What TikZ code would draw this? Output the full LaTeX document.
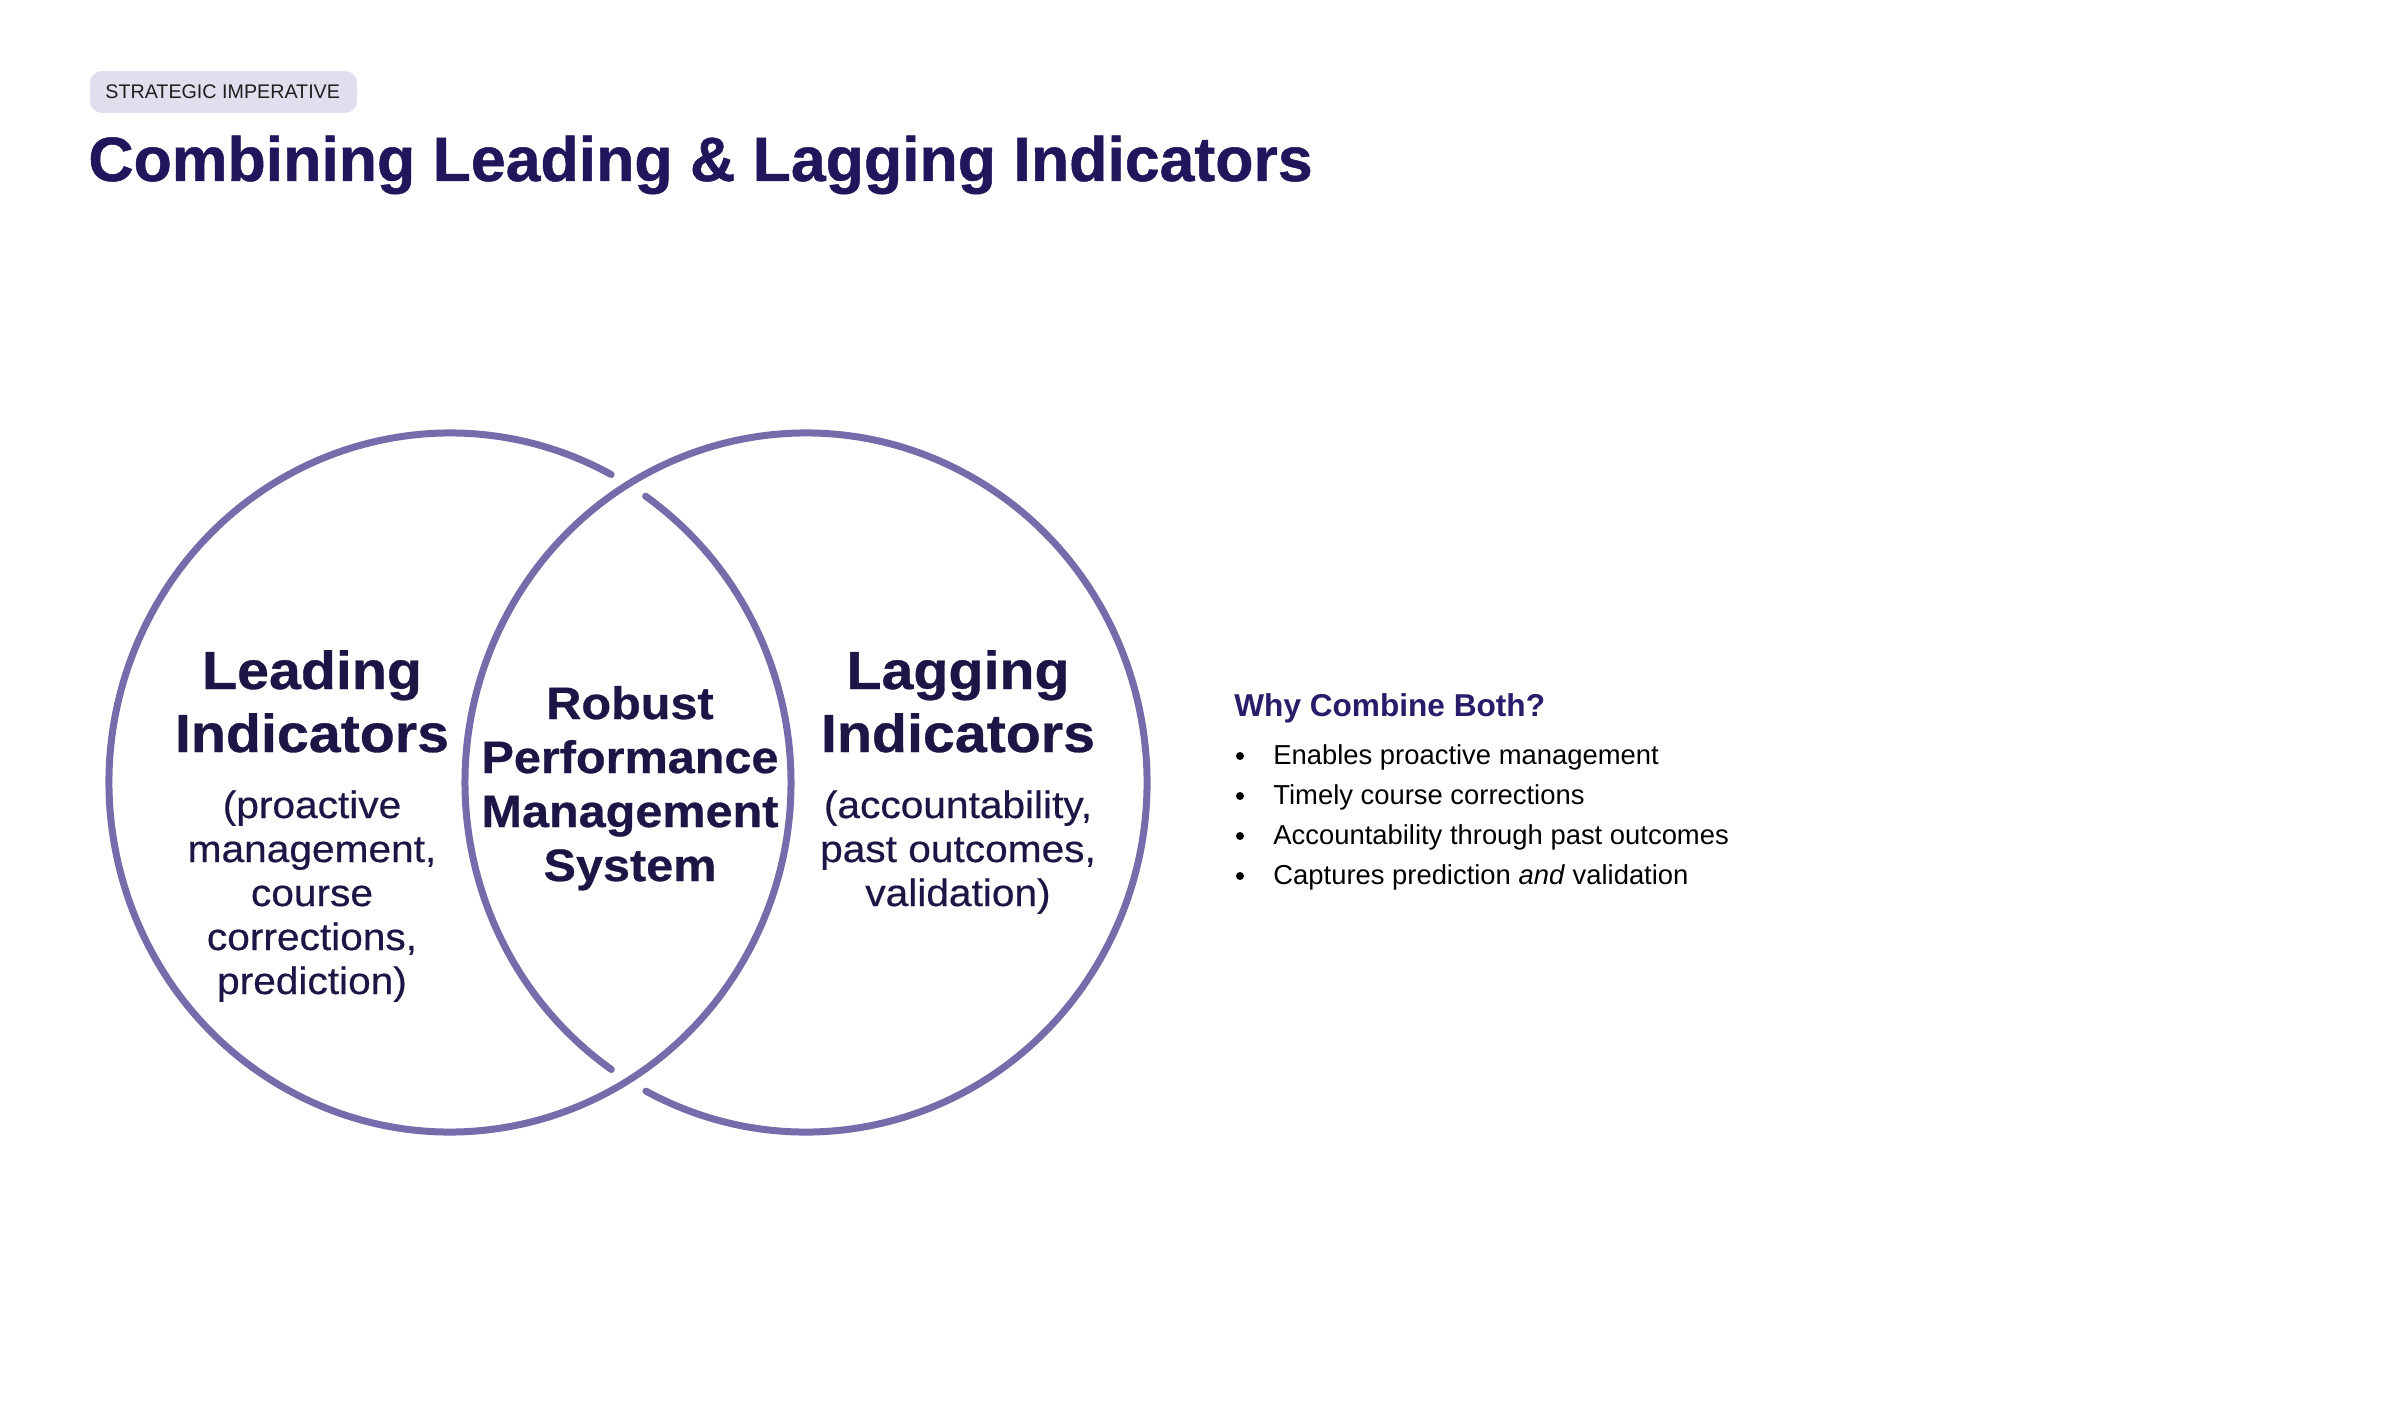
\documentclass[tikz,border=0pt]{standalone}
\usepackage{fontspec}
\usetikzlibrary{calc}
\setmainfont{Liberation Sans}
\newfontfamily\vennfont[FakeStretch=1.07,FakeBold=0.6]{Liberation Sans Bold}
\newfontfamily\vennmed[FakeStretch=1.07,FakeBold=0.5]{Liberation Sans}
\newfontfamily\titlefont[FakeBold=0.8]{Liberation Sans Bold}
\definecolor{ring}{HTML}{766CAC}
\definecolor{venntxt}{HTML}{1C1646}
\definecolor{titlec}{HTML}{22155C}
\definecolor{headc}{HTML}{2A1B6B}
\definecolor{pillfill}{HTML}{E1DFEE}
\definecolor{pilltxt}{HTML}{1E1E1E}
\tikzset{
  ringline/.style={draw=ring, line width=3.5pt, line cap=round},
  bigtxt/.style={anchor=base, inner sep=0pt, text=venntxt, font=\vennfont\fontsize{26.8pt}{30pt}\selectfont},
  midtxt/.style={anchor=base, inner sep=0pt, text=venntxt, font=\vennfont\fontsize{22.7pt}{26pt}\selectfont},
  smalltxt/.style={anchor=base, inner sep=0pt, text=venntxt, font=\vennmed\fontsize{19pt}{22pt}\selectfont},
  bullettxt/.style={anchor=base west, inner sep=0pt, text=black, font=\fontsize{13.7pt}{16pt}\selectfont},
  bulletdot/.style={circle, fill=black, inner sep=0pt, minimum size=4pt},
  pillbox/.style={fill=pillfill, rounded corners=6pt},
}
\begin{document}
\begin{tikzpicture}[x=0.5pt,y=0.5pt]
\useasboundingbox (0,0) rectangle (2400,-1412);
\fill[white] (0,0) rectangle (2400,-1412);

% header
\path[pillbox] (90,-71) rectangle (357,-113);
\node[anchor=base west, inner sep=0pt, text=pilltxt, font=\fontsize{9.85pt}{12pt}\selectfont] (tag) at (105,-99) {STRATEGIC IMPERATIVE};
\node[anchor=base west, inner sep=0pt, text=titlec, font=\titlefont\fontsize{31.3pt}{36pt}\selectfont] (title) at (88,-181) {Combining Leading \& Lagging Indicators};

% venn rings (interlocked)
\coordinate (cL) at (450,-782.5);
\coordinate (cR) at (806,-782.5);
\draw[ringline] ($(cL)+(61.8:341 and 349.5)$) arc[start angle=61.8, end angle=415.0, x radius=341, y radius=349.5];
\draw[ringline] ($(cR)+(242.0:341 and 349.5)$) arc[start angle=242.0, end angle=595.2, x radius=341, y radius=349.5];

% left text
\node[bigtxt] (l1) at (312,-689) {Leading};
\node[bigtxt] (l2) at (312,-752) {Indicators};
\node[smalltxt] (l3) at (312,-818) {(proactive};
\node[smalltxt] (l4) at (312,-862) {management,};
\node[smalltxt] (l5) at (312,-906) {course};
\node[smalltxt] (l6) at (312,-950) {corrections,};
\node[smalltxt] (l7) at (312,-994) {prediction)};

% centre text
\node[midtxt] (m1) at (630,-719) {Robust};
\node[midtxt] (m2) at (630,-773) {Performance};
\node[midtxt] (m3) at (630,-827) {Management};
\node[midtxt] (m4) at (630,-881) {System};

% right text
\node[bigtxt] (r1) at (958,-689) {Lagging};
\node[bigtxt] (r2) at (958,-752) {Indicators};
\node[smalltxt] (r3) at (958,-818) {(accountability,};
\node[smalltxt] (r4) at (958,-862) {past outcomes,};
\node[smalltxt] (r5) at (958,-906) {validation)};

% side list
\node[anchor=base west, inner sep=0pt, text=headc, font=\bfseries\fontsize{15.8pt}{18pt}\selectfont] (why) at (1234,-716) {Why Combine Both?};
\node[bulletdot] (d1) at (1240,-756) {};
\node[bulletdot] (d2) at (1240,-796) {};
\node[bulletdot] (d3) at (1240,-836) {};
\node[bulletdot] (d4) at (1240,-876) {};
\node[bullettxt] (b1) at (1273,-764) {Enables proactive management};
\node[bullettxt] (b2) at (1273,-804) {Timely course corrections};
\node[bullettxt] (b3) at (1273,-844) {Accountability through past outcomes};
\node[bullettxt] (b4) at (1273,-884) {Captures prediction \textit{and} validation};
\end{tikzpicture}
\end{document}
